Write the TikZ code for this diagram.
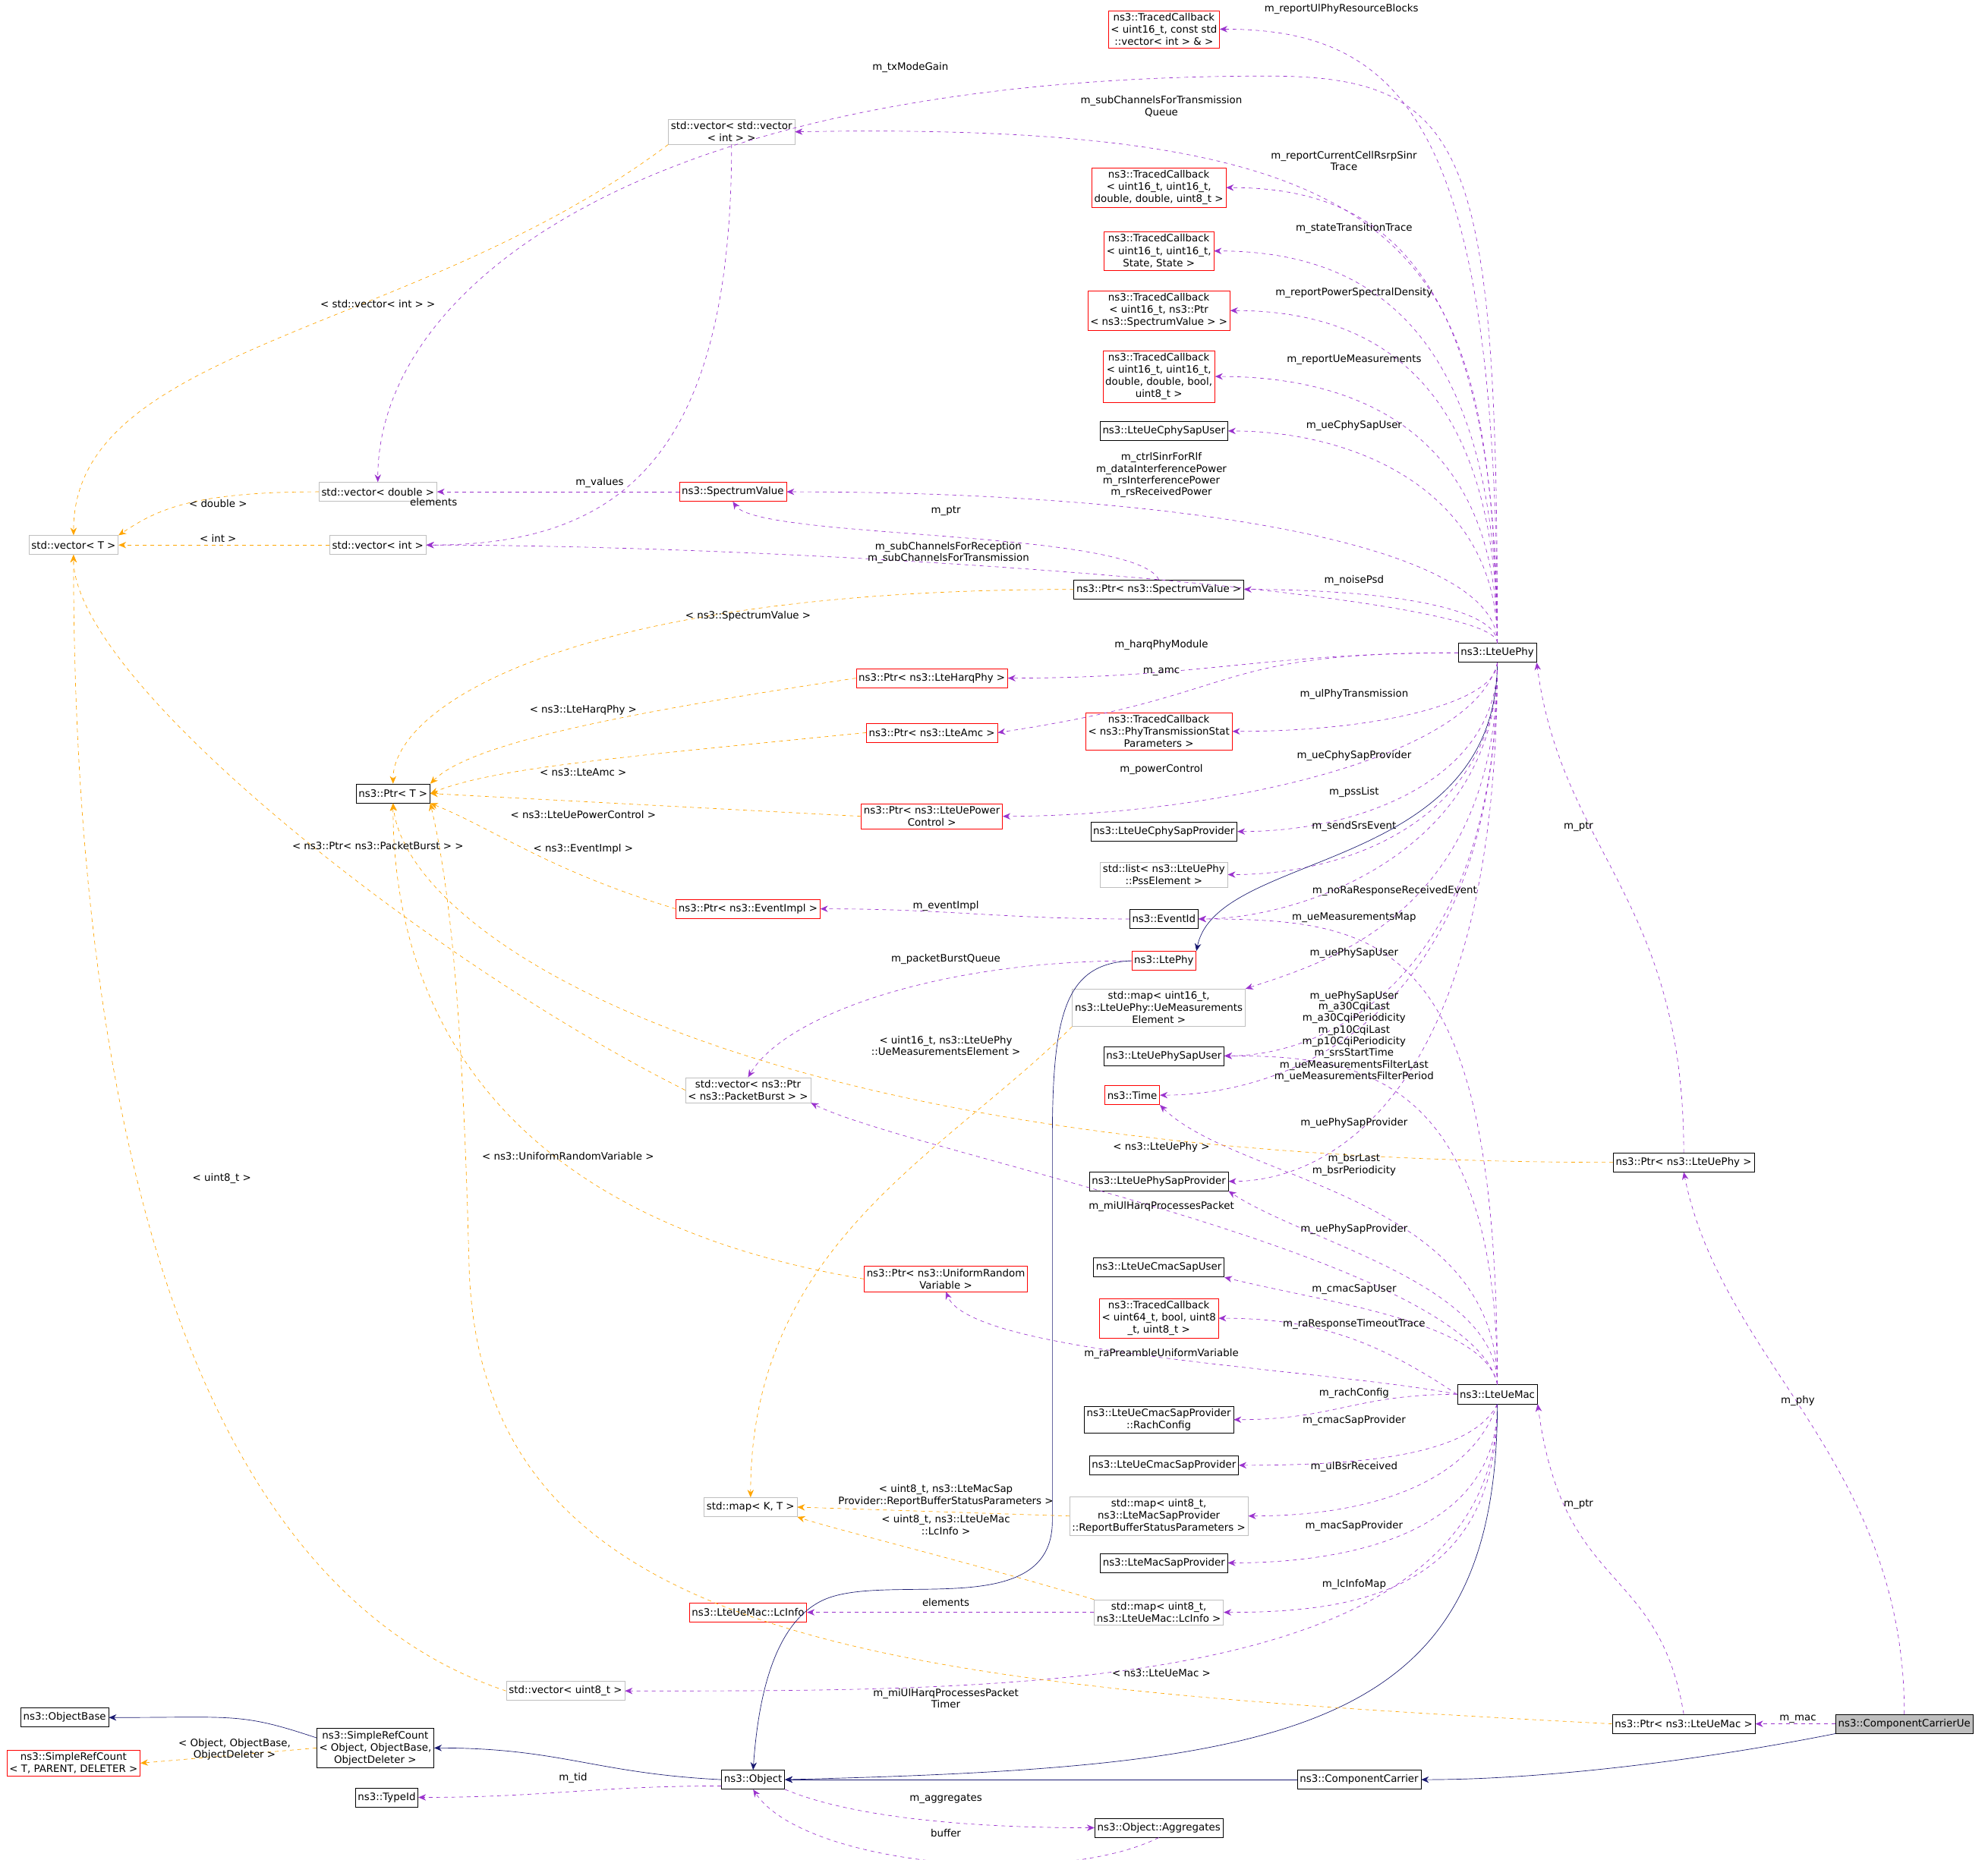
\documentclass[tikz,border=0pt]{standalone}
\usepackage{fontspec}
\setmainfont{DejaVu Sans}
\usetikzlibrary{arrows.meta}
\definecolor{memcol}{HTML}{9A32CD}
\definecolor{tplcol}{HTML}{FFA500}
\definecolor{inhcol}{HTML}{191970}
\tikzset{
  cls/.style={draw=black, rectangle, align=center, inner sep=2pt, minimum height=15pt, font=\fontsize{8}{9.6}\selectfont},
  redcls/.style={cls, draw=red},
  grycls/.style={cls, draw=black!25},
  mem/.style={draw=memcol, dashed, -{Stealth[length=6pt,width=5pt]}},
  tpl/.style={draw=tplcol, dashed, -{Stealth[length=6pt,width=5pt]}},
  inh/.style={draw=inhcol, -{Stealth[length=6pt,width=5pt]}},
  lbl/.style={align=center, inner sep=0pt, font=\fontsize{8}{9.2}\selectfont}
}
\begin{document}
\begin{tikzpicture}[x=1pt,y=-1pt]
\useasboundingbox (0,0) rectangle (1568,1467);
% classes
\node[redcls] (tcub) at (918,23) {ns3::TracedCallback\\< uint16\_t, const std\\::vector< int > \& >};
\node[grycls] (vecvec) at (577,104) {std::vector< std::vector\\< int > >};
\node[redcls] (tcrsrp) at (914,148) {ns3::TracedCallback\\< uint16\_t, uint16\_t,\\ double, double, uint8\_t >};
\node[redcls] (tcstate) at (914,198) {ns3::TracedCallback\\< uint16\_t, uint16\_t,\\ State, State >};
\node[redcls] (tcpsd) at (914,245) {ns3::TracedCallback\\< uint16\_t, ns3::Ptr\\< ns3::SpectrumValue > >};
\node[redcls] (tcmeas) at (914,297) {ns3::TracedCallback\\< uint16\_t, uint16\_t,\\ double, double, bool,\\ uint8\_t >};
\node[cls] (cphyuser) at (918,340) {ns3::LteUeCphySapUser};
\node[grycls] (vecdbl) at (298,388) {std::vector< double >};
\node[redcls] (specval) at (578,388) {ns3::SpectrumValue};
\node[grycls] (vect) at (58,430) {std::vector< T >};
\node[grycls] (vecint) at (298,430) {std::vector< int >};
\node[cls] (ptrsv) at (914,465) {ns3::Ptr< ns3::SpectrumValue >};
\node[cls] (uephy) at (1181,515) {ns3::LteUePhy};
\node[redcls] (ptrharq) at (735,535) {ns3::Ptr< ns3::LteHarqPhy >};
\node[redcls] (tcphytx) at (914,577) {ns3::TracedCallback\\< ns3::PhyTransmissionStat\\Parameters >};
\node[redcls] (ptramc) at (735,578) {ns3::Ptr< ns3::LteAmc >};
\node[cls] (ptrt) at (310,626) {ns3::Ptr< T >};
\node[redcls] (ptrpower) at (735,644) {ns3::Ptr< ns3::LteUePower\\Control >};
\node[cls] (cphyprov) at (918,656) {ns3::LteUeCphySapProvider};
\node[grycls] (listpss) at (918,690) {std::list< ns3::LteUePhy\\::PssElement >};
\node[redcls] (ptrevent) at (590,717) {ns3::Ptr< ns3::EventImpl >};
\node[cls] (eventid) at (918,725) {ns3::EventId};
\node[redcls] (ltephy) at (918,758) {ns3::LtePhy};
\node[grycls] (mapmeas) at (914,795) {std::map< uint16\_t,\\ ns3::LteUePhy::UeMeasurements\\Element >};
\node[cls] (physapuser) at (918,833) {ns3::LteUePhySapUser};
\node[grycls] (vecpb) at (590,860) {std::vector< ns3::Ptr\\< ns3::PacketBurst > >};
\node[redcls] (time) at (893,864) {ns3::Time};
\node[cls] (ptruephy) at (1328,917) {ns3::Ptr< ns3::LteUePhy >};
\node[cls] (physapprov) at (914,932) {ns3::LteUePhySapProvider};
\node[cls] (cmacuser) at (914,1000) {ns3::LteUeCmacSapUser};
\node[redcls] (ptrurv) at (746,1009) {ns3::Ptr< ns3::UniformRandom\\Variable >};
\node[redcls] (tcrato) at (914,1040) {ns3::TracedCallback\\< uint64\_t, bool, uint8\\\_t, uint8\_t >};
\node[cls] (uemac) at (1181,1100) {ns3::LteUeMac};
\node[cls] (rach) at (914,1120) {ns3::LteUeCmacSapProvider\\::RachConfig};
\node[cls] (cmacprov) at (918,1156) {ns3::LteUeCmacSapProvider};
\node[grycls] (mapkt) at (592,1189) {std::map< K, T >};
\node[grycls] (mapbsr) at (914,1196) {std::map< uint8\_t,\\ ns3::LteMacSapProvider\\::ReportBufferStatusParameters >};
\node[cls] (macprov) at (918,1233) {ns3::LteMacSapProvider};
\node[redcls] (lcinfo) at (590,1272) {ns3::LteUeMac::LcInfo};
\node[grycls] (maplc) at (914,1272) {std::map< uint8\_t,\\ ns3::LteUeMac::LcInfo >};
\node[grycls] (vecu8) at (446,1334) {std::vector< uint8\_t >};
\node[cls] (ptruemac) at (1328,1360) {ns3::Ptr< ns3::LteUeMac >};
\node[cls, fill=black!25] (ccue) at (1502,1360) {ns3::ComponentCarrierUe};
\node[cls] (objbase) at (51,1355) {ns3::ObjectBase};
\node[cls] (src) at (296,1379) {ns3::SimpleRefCount\\< Object, ObjectBase,\\ ObjectDeleter >};
\node[redcls] (srct) at (58,1391) {ns3::SimpleRefCount\\< T, PARENT, DELETER >};
\node[cls] (typeid) at (305,1418) {ns3::TypeId};
\node[cls] (object) at (594,1404) {ns3::Object};
\node[cls] (cc) at (1072,1404) {ns3::ComponentCarrier};
\node[cls] (aggr) at (914,1442) {ns3::Object::Aggregates};
% LteUePhy members
\draw[mem] (uephy.north) .. controls +(0,-400) and +(150,0) .. (tcub.east);
\draw[mem] (uephy.north) .. controls (1181,120) and (1160,60) .. (1000,60) .. controls (500,60) and (298,230) .. (vecdbl.north);
\draw[mem] (uephy.north) .. controls (1175,200) and (1130,95) .. (vecvec.east);
\draw[mem] (uephy.north) .. controls +(0,-300) and +(120,0) .. (tcrsrp.east);
\draw[mem] (uephy.north) .. controls +(0,-250) and +(120,0) .. (tcstate.east);
\draw[mem] (uephy.north) .. controls +(0,-200) and +(120,0) .. (tcpsd.east);
\draw[mem] (uephy.north) .. controls +(0,-160) and +(120,0) .. (tcmeas.east);
\draw[mem] (uephy.north) .. controls +(0,-120) and +(100,0) .. (cphyuser.east);
\draw[mem] (uephy.north) .. controls +(0,-80) and +(300,0) .. (specval.east);
\draw[mem] (uephy.north) .. controls +(0,-40) and +(300,0) .. (vecint.east);
\draw[mem] (uephy.north) .. controls +(0,-30) and +(100,0) .. (ptrsv.east);
\draw[mem] (uephy.west) .. controls +(-150,0) and +(150,0) .. (ptrharq.east);
\draw[mem] (uephy.west) .. controls +(-200,0) and +(200,-30) .. (ptramc.east);
\draw[mem] (uephy.south) .. controls +(0,30) and +(120,0) .. (tcphytx.east);
\draw[mem] (uephy.south) .. controls +(-20,80) and +(150,0) .. (ptrpower.east);
\draw[mem] (uephy.south) .. controls +(0,90) and +(100,0) .. (cphyprov.east);
\draw[mem] (uephy.south) .. controls +(0,120) and +(100,0) .. (listpss.east);
\draw[mem] (uephy.south) .. controls +(0,150) and +(80,0) .. (eventid.east);
\draw[inh] (uephy.south) .. controls (1180,690) and (960,670) .. (ltephy.north east);
\draw[mem] (uephy.south) .. controls +(0,200) and +(60,-20) .. (mapmeas.north east);
\draw[mem] (uephy.south) .. controls +(0,250) and +(80,0) .. (physapuser.east);
\draw[mem] (uephy.south) .. controls +(0,300) and +(80,0) .. (time.east);
\draw[mem] (uephy.south) .. controls +(0,340) and +(80,0) .. (physapprov.east);
% LteUeMac members
\draw[mem] (uemac.north) .. controls +(0,-350) and +(150,0) .. (eventid.east);
\draw[mem] (uemac.north) .. controls +(0,-250) and +(100,0) .. (physapuser.east);
\draw[mem] (uemac.north) .. controls +(0,-150) and +(60,60) .. (time.south east);
\draw[mem] (uemac.north) .. controls +(-20,-100) and +(80,40) .. (vecpb.south east);
\draw[mem] (uemac.north) .. controls +(0,-80) and +(60,40) .. (physapprov.south east);
\draw[mem] (uemac.north) .. controls +(-10,-50) and +(80,20) .. (cmacuser.south east);
\draw[mem] (uemac.west) .. controls +(-60,-40) and +(80,0) .. (tcrato.east);
\draw[mem] (uemac.west) .. controls +(-100,-20) and +(20,50) .. (ptrurv.south);
\draw[mem] (uemac.west) .. controls +(-80,0) and +(80,0) .. (rach.east);
\draw[mem] (uemac.south) .. controls +(-20,40) and +(100,0) .. (cmacprov.east);
\draw[mem] (uemac.south) .. controls +(-20,60) and +(100,0) .. (mapbsr.east);
\draw[mem] (uemac.south) .. controls +(0,100) and +(100,0) .. (macprov.east);
\draw[mem] (uemac.south) .. controls +(0,150) and +(100,0) .. (maplc.east);
\draw[mem] (uemac.south) .. controls +(0,230) and +(300,0) .. (vecu8.east);
\draw[inh] (uemac.south) .. controls +(0,260) and +(400,-10) .. (object.east);
% other members
\draw[mem] (vecvec.south) .. controls +(0,250) and +(150,0) .. (vecint.east);
\draw[mem] (specval.west) -- (vecdbl.east);
\draw[mem] (ptrsv.north) .. controls +(-20,-40) and +(20,30) .. (specval.south);
\draw[mem] (eventid.west) .. controls +(-100,0) and +(100,0) .. (ptrevent.east);
\draw[mem] (ltephy.west) .. controls +(-150,0) and +(30,-50) .. (vecpb.north);
\draw[inh] (ltephy.west) .. controls (840,760) and (830,800) .. (830,900) -- (830,1200) .. controls (830,1280) and (700,1240) .. (650,1262) .. controls (610,1280) and (598,1340) .. (object.north);
\draw[mem] (ptruephy.north) .. controls +(0,-200) and +(20,150) .. (uephy.south east);
\draw[mem] (ccue.north) .. controls +(0,-200) and +(30,150) .. (ptruephy.south);
\draw[mem] (ccue.west) -- (ptruemac.east);
\draw[mem] (ptruemac.north) .. controls +(-20,-120) and +(20,150) .. (uemac.south east);
\draw[inh] (ccue.south west) .. controls +(-100,20) and +(100,0) .. (cc.east);
\draw[inh] (cc.west) -- (object.east);
\draw[inh] (object.west) .. controls +(-100,-5) and +(100,0) .. (src.east);
\draw[inh] (src.west) ++(0,-8) .. controls +(-60,-20) and +(100,0) .. (objbase.east);
\draw[tpl] (src.west) -- (srct.east);
\draw[mem] (object.west) ++(0,5) .. controls +(-100,0) and +(100,0) .. (typeid.east);
\draw[mem] (object.south east) .. controls +(60,25) and +(-80,0) .. (aggr.west);
\draw[mem] (aggr.south) .. controls +(-80,40) and +(40,60) .. (object.south);
% templates
\draw[tpl] (vecvec.south west) .. controls +(-200,150) and +(0,-150) .. (vect.north);
\draw[tpl] (vecdbl.west) .. controls +(-100,0) and +(30,-20) .. (vect.north east);
\draw[tpl] (vecint.west) -- (vect.east);
\draw[tpl] (vecpb.west) .. controls +(-200,-100) and +(0,100) .. (vect.south);
\draw[tpl] (vecu8.west) .. controls +(-300,-100) and +(0,300) .. (vect.south);
\draw[tpl] (ptrsv.west) .. controls +(-400,0) and +(0,-60) .. (ptrt.north);
\draw[tpl] (ptrharq.west) .. controls +(-200,30) and +(30,-30) .. (ptrt.north east);
\draw[tpl] (ptramc.west) .. controls +(-200,20) and +(50,-20) .. (ptrt.east);
\draw[tpl] (ptrpower.west) -- (ptrt.east);
\draw[tpl] (ptrevent.west) .. controls +(-100,-30) and +(50,20) .. (ptrt.south east);
\draw[tpl] (ptrurv.west) .. controls +(-300,-50) and +(0,150) .. (ptrt.south);
\draw[tpl] (ptruephy.west) .. controls +(-700,0) and +(10,100) .. (ptrt.south);
\draw[tpl] (ptruemac.west) .. controls (700,1330) and (380,1300) .. (370,1000) .. controls (365,800) and (355,700) .. (ptrt.south east);
\draw[tpl] (mapmeas.south west) .. controls +(-100,100) and +(0,-200) .. (mapkt.north);
\draw[tpl] (mapbsr.west) -- (mapkt.east);
\draw[tpl] (maplc.north west) .. controls +(-100,-30) and +(30,10) .. (mapkt.south east);
\draw[mem] (maplc.west) -- (lcinfo.east);
% labels
\node[lbl] at (1058,7) {m\_reportUlPhyResourceBlocks};
\node[lbl] at (718,53) {m\_txModeGain};
\node[lbl] at (916,84) {m\_subChannelsForTransmission\\Queue};
\node[lbl] at (1060,127) {m\_reportCurrentCellRsrpSinr\\Trace};
\node[lbl] at (1068,180) {m\_stateTransitionTrace};
\node[lbl] at (1068,231) {m\_reportPowerSpectralDensity};
\node[lbl] at (1068,284) {m\_reportUeMeasurements};
\node[lbl] at (1068,336) {m\_ueCphySapUser};
\node[lbl] at (916,375) {m\_ctrlSinrForRlf\\m\_dataInterferencePower\\m\_rsInterferencePower\\m\_rsReceivedPower};
\node[lbl] at (748,436) {m\_subChannelsForReception\\m\_subChannelsForTransmission};
\node[lbl] at (1068,458) {m\_noisePsd};
\node[lbl] at (916,509) {m\_harqPhyModule};
\node[lbl] at (916,530) {m\_amc};
\node[lbl] at (1068,548) {m\_ulPhyTransmission};
\node[lbl] at (916,607) {m\_powerControl};
\node[lbl] at (1068,596) {m\_ueCphySapProvider};
\node[lbl] at (1068,625) {m\_pssList};
\node[lbl] at (1068,652) {m\_sendSrsEvent};
\node[lbl] at (1100,703) {m\_noRaResponseReceivedEvent};
\node[lbl] at (1068,724) {m\_ueMeasurementsMap};
\node[lbl] at (1068,752) {m\_uePhySapUser};
\node[lbl] at (1068,786) {m\_uePhySapUser};
\node[lbl] at (1068,822) {m\_a30CqiLast\\m\_a30CqiPeriodicity\\m\_p10CqiLast\\m\_p10CqiPeriodicity\\m\_srsStartTime\\m\_ueMeasurementsFilterLast\\m\_ueMeasurementsFilterPeriod};
\node[lbl] at (1068,886) {m\_uePhySapProvider};
\node[lbl] at (1068,919) {m\_bsrLast\\m\_bsrPeriodicity};
\node[lbl] at (916,952) {m\_miUlHarqProcessesPacket};
\node[lbl] at (1068,970) {m\_uePhySapProvider};
\node[lbl] at (1068,1017) {m\_cmacSapUser};
\node[lbl] at (1068,1045) {m\_raResponseTimeoutTrace};
\node[lbl] at (916,1068) {m\_raPreambleUniformVariable};
\node[lbl] at (1068,1099) {m\_rachConfig};
\node[lbl] at (1068,1121) {m\_cmacSapProvider};
\node[lbl] at (1068,1157) {m\_ulBsrReceived};
\node[lbl] at (1068,1204) {m\_macSapProvider};
\node[lbl] at (1068,1250) {m\_lcInfoMap};
\node[lbl] at (746,1340) {m\_miUlHarqProcessesPacket\\Timer};
\node[lbl] at (342,396) {elements};
\node[lbl] at (473,381) {m\_values};
\node[lbl] at (746,403) {m\_ptr};
\node[lbl] at (746,715) {m\_eventImpl};
\node[lbl] at (746,757) {m\_packetBurstQueue};
\node[lbl] at (1245,652) {m\_ptr};
\node[lbl] at (1418,1105) {m\_phy};
\node[lbl] at (1418,1356) {m\_mac};
\node[lbl] at (1245,1187) {m\_ptr};
\node[lbl] at (452,1403) {m\_tid};
\node[lbl] at (746,1419) {m\_aggregates};
\node[lbl] at (746,1446) {buffer};
\node[lbl] at (746,1264) {elements};
\node[lbl] at (298,240) {< std::vector< int > >};
\node[lbl] at (172,397) {< double >};
\node[lbl] at (172,425) {< int >};
\node[lbl] at (298,667) {< ns3::Ptr< ns3::PacketBurst > >};
\node[lbl] at (175,930) {< uint8\_t >};
\node[lbl] at (590,486) {< ns3::SpectrumValue >};
\node[lbl] at (460,560) {< ns3::LteHarqPhy >};
\node[lbl] at (460,609) {< ns3::LteAmc >};
\node[lbl] at (460,643) {< ns3::LteUePowerControl >};
\node[lbl] at (460,670) {< ns3::EventImpl >};
\node[lbl] at (448,912) {< ns3::UniformRandomVariable >};
\node[lbl] at (916,905) {< ns3::LteUePhy >};
\node[lbl] at (916,1320) {< ns3::LteUeMac >};
\node[lbl] at (746,825) {< uint16\_t, ns3::LteUePhy\\::UeMeasurementsElement >};
\node[lbl] at (746,1180) {< uint8\_t, ns3::LteMacSap\\Provider::ReportBufferStatusParameters >};
\node[lbl] at (746,1203) {< uint8\_t, ns3::LteUeMac\\::LcInfo >};
\node[lbl] at (185,1380) {< Object, ObjectBase,\\ObjectDeleter >};
\end{tikzpicture}
\end{document}
